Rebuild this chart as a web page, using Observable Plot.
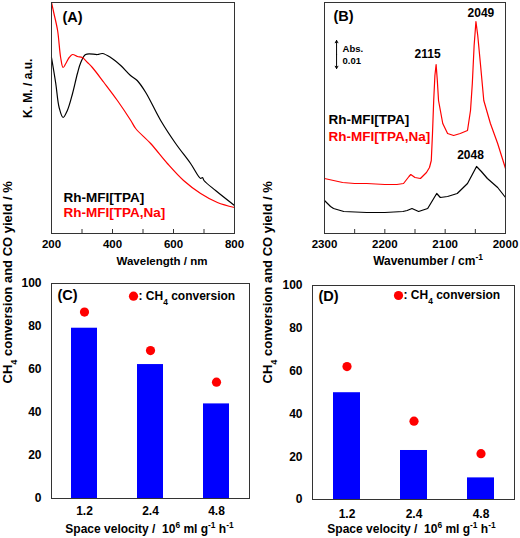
<!DOCTYPE html>
<html><head><meta charset="utf-8">
<script src="https://cdn.jsdelivr.net/npm/d3@7"></script>
<script src="https://cdn.jsdelivr.net/npm/@observablehq/plot@0.6"></script>
<style>
body{margin:0;background:#fff}
#root{position:relative;width:520px;height:538px;overflow:hidden;background:#fff}
</style></head>
<body><div id="root"></div>
<script>
// ---- Panel A: UV-vis (K.M., arbitrary units) ----
const uvWavelengthTPA = [200,214,225,238,252,269,285,296,312,351,367,394,427,459,481,509,558,607,656,689,695,700,738,800];
const uvKmTPA        = [176,150,126,116,123,140,160,171,179,179,180,176,168,158,153,141,113,90,70,55,56,53,43,28];
const uvWavelengthNa = [200,208,220,230,238,247,258,269,285,301,318,334,372,416,460,476,525,580,633,689,744,800];
const uvKmNa         = [231,220,203,176,166,170,176,179,177,176,171,166,151,133,113,105,90,70,53,40,31,26];
const uvTicks = [200,400,600,800];
const uvMinorTicks = [300,400,500,600,700];

// ---- Panel B: IR (absorbance, arbitrary units) ----
const irWavenumberNa = [2300,2285,2270,2250,2230,2200,2180,2169,2160,2157,2150,2141,2131,2126,2123,2121,2119,2117,2115,2113,2111,2104,2096,2086,2075,2063,2058,2055,2052,2049,2046,2041,2036,2025,2013,2000];
const irAbsNa        = [55,53,51,50,50,49,49,50,57,59,56,55,61,66,73,100,133,158,169,153,133,110,100,98,100,103,123,150,188,212,198,166,133,110,90,65];
const irWavenumberTPA = [2300,2290,2285,2268,2230,2200,2170,2163,2155,2144,2129,2121,2114,2108,2096,2080,2063,2055,2048,2040,2030,2013,2000];
const irAbsTPA        = [33,27,25,22,21,21,22,23,25,22,25,33,40,36,37,40,50,59,67,62,55,46,36];
const irTicks = [2300,2200,2100,2000];
const irMinorTicks = [2250,2200,2150,2100,2050];
const scaleBarWavenumber = 2280, scaleBarLow = 165, scaleBarHigh = 193; // 0.01 Abs.

const seriesNames = ["Rh-MFI[TPA]", "Rh-MFI[TPA,Na]"];
const seriesColors = ["#000000", "#ff0000"];

// ---- Panels C, D: activity ----
const spaceVelocity = ["1.2", "2.4", "4.8"];
const coYieldC = [79.2, 62.3, 44.0];
const ch4ConvC = [86.7, 68.8, 54.1];
const coYieldD = [49.9, 22.9, 10.1];
const ch4ConvD = [62.1, 36.6, 21.4];
const yieldTicks = [0, 20, 40, 60, 80, 100];

const FONT = '"Liberation Sans", Arial, Helvetica, sans-serif';
const baseStyle = {fontFamily: FONT, fontWeight: "bold", background: "transparent", overflow: "visible", color: "#000"};
const FRAME = "#333";
const MID = {lineAnchor: "middle"};

const root = document.getElementById("root");
function place(svg, left, top) {
  svg.style.position = "absolute";
  svg.style.left = left + "px";
  svg.style.top = top + "px";
  richify(svg);
  root.append(svg);
}
function richify(svg) {
  svg.querySelectorAll("text").forEach(t => {
    const s = t.textContent;
    if (/\{[_^]/.test(s)) {
      const esc = s.replace(/&/g, "&amp;").replace(/</g, "&lt;");
      t.innerHTML = esc.replace(/\{([_^])([^}]*)\}/g, (m, k, v) =>
        `<tspan font-size="70%" baseline-shift="${k === "_" ? "sub" : "super"}">${v}</tspan>`);
    }
  });
}
const label = (s, o) => Plot.text([s], {text: d => d, ...MID, ...o});

// ---------- Panel A ----------
const uvTPA = uvWavelengthTPA.map((w, i) => ({w, v: uvKmTPA[i]}));
const uvNa = uvWavelengthNa.map((w, i) => ({w, v: uvKmNa[i]}));
place(Plot.plot({
  width: 260, height: 270, marginLeft: 51, marginRight: 26, marginTop: 2, marginBottom: 37,
  style: baseStyle,
  x: {domain: [200, 800]},
  y: {domain: [0, 231], axis: null},
  marks: [
    Plot.lineY(uvTPA, {x: "w", y: "v", stroke: seriesColors[0], strokeWidth: 1.2, curve: "catmull-rom"}),
    Plot.lineY(uvNa, {x: "w", y: "v", stroke: seriesColors[1], strokeWidth: 1.2, curve: "catmull-rom"}),
    Plot.tickX(uvMinorTicks, {x: d => d, stroke: FRAME, insetTop: 227}),
    Plot.frame({stroke: FRAME}),
    Plot.axisX(uvTicks, {tickSize: 0, tickPadding: 6, fontSize: 11.5, label: null, tickFormat: d => String(d)}),
    label("K. M. / a.u.", {frameAnchor: "left", rotate: -90, dx: -23, fontSize: 12}),
    label("Wavelength / nm", {frameAnchor: "bottom", dx: 19, dy: 28, fontSize: 11.5}),
    label("(A)", {frameAnchor: "top-left", textAnchor: "start", dx: 11, dy: 15, fontSize: 14.5}),
    ...seriesNames.map((n, i) => label(n, {frameAnchor: "top-left", textAnchor: "start",
      dx: 12, dy: 194.7 + i * 15.8, fill: seriesColors[i], fontSize: 13.5}))
  ]
}), 0, 0);

// ---------- Panel B ----------
const irTPA = irWavenumberTPA.map((w, i) => ({w, v: irAbsTPA[i]}));
const irNa = irWavenumberNa.map((w, i) => ({w, v: irAbsNa[i]}));
const peak = (arr, wn) => arr.filter(d => d.w === wn);
const scaleMid = (scaleBarLow + scaleBarHigh) / 2;
place(Plot.plot({
  width: 260, height: 270, marginLeft: 64, marginRight: 15, marginTop: 2, marginBottom: 37,
  style: baseStyle,
  x: {domain: [2300, 2000]},
  y: {domain: [0, 231], axis: null},
  marks: [
    Plot.lineY(irTPA, {x: "w", y: "v", stroke: seriesColors[0], strokeWidth: 1.2}),
    Plot.lineY(irNa, {x: "w", y: "v", stroke: seriesColors[1], strokeWidth: 1.2}),
    Plot.tickX(irMinorTicks, {x: d => d, stroke: FRAME, insetTop: 227}),
    Plot.frame({stroke: FRAME}),
    Plot.axisX(irTicks, {tickSize: 0, tickPadding: 6, fontSize: 11.5, label: null, tickFormat: d => String(d)}),
    Plot.text(peak(irNa, 2115), {x: "w", y: "v", text: () => "2115", dx: -8.5, dy: -10, fontSize: 12}),
    Plot.text(peak(irNa, 2049), {x: "w", y: "v", text: () => "2049", dx: 5, dy: -8.5, fontSize: 12}),
    Plot.text(peak(irTPA, 2048), {x: "w", y: "v", text: () => "2048", dx: -6, dy: -11, fontSize: 12}),
    Plot.arrow([0], {x1: scaleBarWavenumber, x2: scaleBarWavenumber, y1: scaleMid, y2: scaleBarHigh, headLength: 4, strokeWidth: 1, stroke: "#000"}),
    Plot.arrow([0], {x1: scaleBarWavenumber, x2: scaleBarWavenumber, y1: scaleMid, y2: scaleBarLow, headLength: 4, strokeWidth: 1, stroke: "#000"}),
    label("Abs.", {x: scaleBarWavenumber, y: scaleMid + 4, dx: 6, dy: -2, textAnchor: "start", fontSize: 9.5}),
    label("0.01", {x: scaleBarWavenumber, y: scaleMid - 4, dx: 6, dy: 2, textAnchor: "start", fontSize: 9.5}),
    label("Wavenumber / cm{^-1}", {frameAnchor: "bottom", dx: 13, dy: 28, fontSize: 12}),
    label("(B)", {frameAnchor: "top-left", textAnchor: "start", dx: 9, dy: 14, fontSize: 14.5}),
    ...seriesNames.map((n, i) => label(n, {frameAnchor: "top-left", textAnchor: "start",
      dx: 4, dy: 116.7 + i * 17.1, fill: seriesColors[i], fontSize: 13.5}))
  ]
}), 260, 0);

// ---------- Panels C, D ----------
function activityPanel(letter, yields, convs, m, lab) {
  const data = spaceVelocity.map((s, i) => ({s, y: yields[i], c: convs[i]}));
  return Plot.plot({
    width: 260, height: 268, marginLeft: m.l, marginRight: m.r, marginTop: m.t, marginBottom: m.b,
    style: baseStyle,
    x: {type: "band", domain: spaceVelocity, paddingInner: 0.6, paddingOuter: 0.3},
    y: {domain: [0, 100]},
    marks: [
      Plot.barY(data, {x: "s", y: "y", fill: "#0000ff"}),
      Plot.dot(data, {x: "s", y: "c", r: 4.6, fill: "#ff0000", stroke: "none"}),
      Plot.frame({stroke: FRAME}),
      Plot.axisY(yieldTicks, {tickSize: 0, tickPadding: 10, fontSize: 12, label: null}),
      Plot.axisX({tickSize: 0, tickPadding: lab.xtp, fontSize: 12, label: null}),
      label("CH{_4} conversion and CO yield / %", {frameAnchor: "left", rotate: -90, dx: lab.ydx, dy: lab.ydy, fontSize: 13}),
      label("Space velocity /  10{^6} ml g{^-1} h{^-1}", {frameAnchor: "bottom", dx: lab.xdx, dy: lab.xdy, fontSize: 12}),
      label(`(${letter})`, {frameAnchor: "top-left", textAnchor: "start", dx: 6, dy: lab.ldy, fontSize: 14.5}),
      Plot.dot([0], {x: null, y: null, frameAnchor: "top-left", dx: lab.gdx, dy: lab.gdy, r: 4.6, fill: "#ff0000", stroke: "none"}),
      label(": CH{_4} conversion", {frameAnchor: "top-left", textAnchor: "start", dx: lab.gdx + 5, dy: lab.gdy, fontSize: 12})
    ]
  });
}
place(activityPanel("C", coYieldC, ch4ConvC, {l: 51, r: 11, t: 13, b: 40},
  {xtp: 8, ydx: -43.5, ydy: -7.5, xdx: -1, xdy: 31, ldy: 12, gdx: 82, gdy: 12.7}), 0, 270);
place(activityPanel("D", coYieldD, ch4ConvD, {l: 52, r: 6, t: 15, b: 39},
  {xtp: 10, ydx: -45, ydy: -9, xdx: -2, xdy: 30, ldy: 11, gdx: 86, gdy: 10}), 260, 270);
</script>
</body></html>
